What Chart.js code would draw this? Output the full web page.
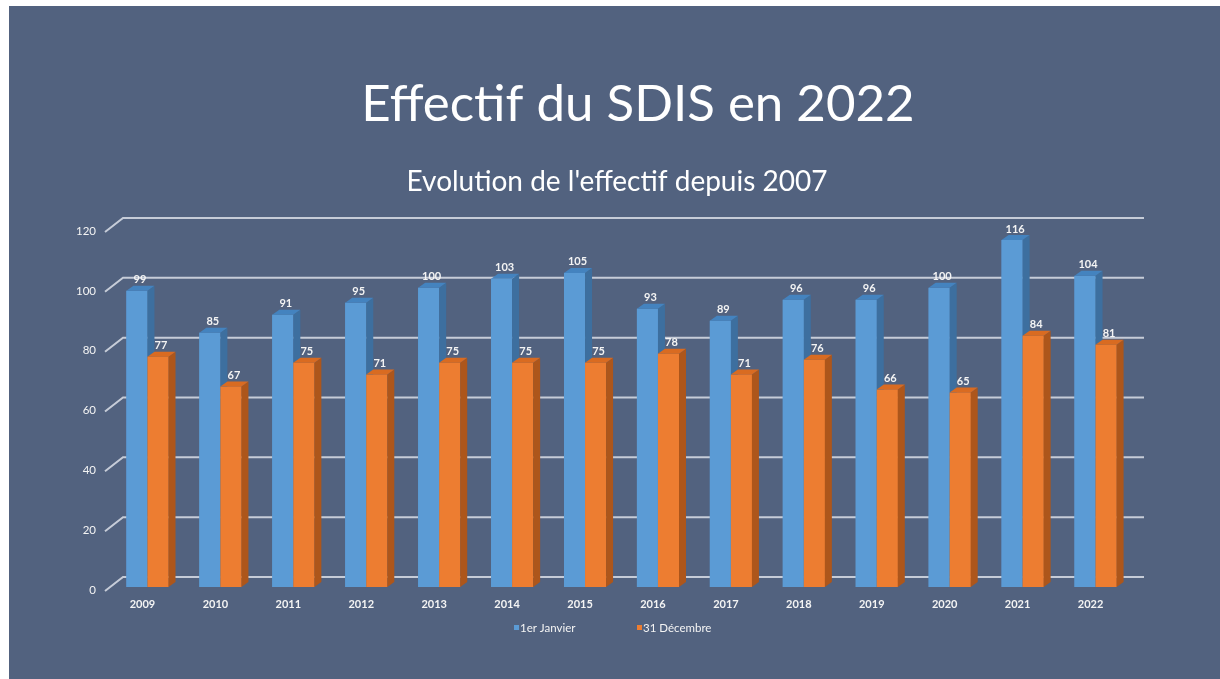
<!DOCTYPE html>
<html>
<head>
<meta charset="utf-8">
<script src="https://cdn.jsdelivr.net/npm/chart.js@4.4.1/dist/chart.umd.min.js"></script>
<style>
  html, body { margin: 0; padding: 0; background: #ffffff; }
  #slide { position: absolute; left: 9px; top: 6px; right: 0; bottom: 0; background: #52627f; }
  #chart { position: absolute; left: 0; top: 0; }
</style>
</head>
<body>
<div id="slide"></div>
<canvas id="chart" width="1220" height="679"></canvas>
<script>
'use strict';

// valeurs
var years = ['2009', '2010', '2011', '2012', '2013', '2014', '2015', '2016', '2017', '2018', '2019', '2020', '2021', '2022'];
var janvier = [99, 85, 91, 95, 100, 103, 105, 93, 89, 96, 96, 100, 116, 104];
var decembre = [77, 67, 75, 71, 75, 75, 75, 78, 71, 76, 66, 65, 84, 81];
var seriesNames = ['1er Janvier', '31 Décembre'];
var yMax = 120;
var yStep = 20;

var mainTitle = 'Effectif du SDIS en 2022';
var subTitle = "Evolution de l'effectif depuis 2007";

var colors = [
    { front: '#5b9bd5', top: '#4483bf', side: '#3d6f9f' },
    { front: '#ed7d31', top: '#d96b21', side: '#ad561b' }
];
var depthX = 7, depthY = 5;
var textColor = '#f4f4f4';
var gridColor = '#c6ccd8';

var slidePlugin = {
    id: 'slide3d',
    beforeDatasetsDraw: function(chart) {
        var ctx = chart.ctx;
        var ys = chart.scales.y;
        var area = chart.chartArea;
        ctx.save();
        ctx.strokeStyle = gridColor;
        ctx.lineWidth = 2;
        for (var v = 0; v <= yMax; v += yStep) {
            var y = ys.getPixelForValue(v);
            ctx.beginPath();
            ctx.moveTo(area.left - 6, y + 4);
            ctx.lineTo(area.left + 12, y - 10);
            ctx.lineTo(area.right + 12, y - 10);
            ctx.stroke();
        }
        ctx.restore();
    },
    afterDatasetsDraw: function(chart) {
        var ctx = chart.ctx;
        var metas = [chart.getDatasetMeta(0), chart.getDatasetMeta(1)];
        ctx.save();
        for (var i = 0; i < years.length; i++) {
            for (var d = 0; d < 2; d++) {
                var el = metas[d].data[i];
                var l = el.x - el.width / 2, r = el.x + el.width / 2;
                var t = el.y, b = el.base;
                var c = colors[d];
                ctx.fillStyle = c.front;
                ctx.fillRect(l, t, r - l, b - t);
                ctx.fillStyle = c.side;
                ctx.beginPath();
                ctx.moveTo(r, t);
                ctx.lineTo(r + depthX, t - depthY);
                ctx.lineTo(r + depthX, b - depthY);
                ctx.lineTo(r, b);
                ctx.closePath();
                ctx.fill();
                ctx.fillStyle = c.top;
                ctx.beginPath();
                ctx.moveTo(l, t);
                ctx.lineTo(l + depthX, t - depthY);
                ctx.lineTo(r + depthX, t - depthY);
                ctx.lineTo(r, t);
                ctx.closePath();
                ctx.fill();
            }
        }
        // étiquettes de données
        ctx.fillStyle = textColor;
        ctx.font = 'bold 11px Lato';
        ctx.textAlign = 'center';
        ctx.textBaseline = 'middle';
        for (var d2 = 0; d2 < 2; d2++) {
            var vals = chart.data.datasets[d2].data;
            metas[d2].data.forEach(function(el, k) {
                ctx.fillText(String(vals[k]), el.x + 3, el.y - 11);
            });
        }
        ctx.restore();
    },
    afterDraw: function(chart) {
        var ctx = chart.ctx;
        ctx.save();
        ctx.fillStyle = '#ffffff';
        ctx.textAlign = 'center';
        ctx.textBaseline = 'alphabetic';
        ctx.font = '51px Lato';
        ctx.fillText(mainTitle, 638, 121);
        ctx.font = '28px Lato';
        ctx.fillText(subTitle, 617, 191);

        // légende
        ctx.font = '11.5px Lato';
        ctx.textAlign = 'left';
        ctx.textBaseline = 'middle';
        var lx = [514, 637];
        for (var d = 0; d < 2; d++) {
            ctx.fillStyle = colors[d].front;
            ctx.fillRect(lx[d], 625, 5, 5);
            ctx.fillStyle = textColor;
            ctx.fillText(chart.data.datasets[d].label, lx[d] + 6, 628);
        }
        ctx.restore();
    }
};

var ctx = document.getElementById('chart').getContext('2d');
var chart = new Chart(ctx, {
    type: 'bar',
    data: {
        labels: years,
        datasets: [{
            label: seriesNames[0],
            data: janvier,
            backgroundColor: colors[0].front,
            categoryPercentage: 0.577,
            barPercentage: 1
        }, {
            label: seriesNames[1],
            data: decembre,
            backgroundColor: colors[1].front,
            categoryPercentage: 0.577,
            barPercentage: 1
        }]
    },
    options: {
        responsive: false,
        devicePixelRatio: 1,
        animation: false,
        layout: {
            padding: { left: 60, right: 88, top: 228, bottom: 0 }
        },
        scales: {
            x: {
                grid: { display: false, drawTicks: false },
                border: { display: false },
                ticks: {
                    color: textColor,
                    font: { family: 'Lato', size: 11, weight: 'bold' },
                    padding: 11,
                    labelOffset: -5,
                    maxRotation: 0
                },
                afterFit: function(s) { s.height = 92; }
            },
            y: {
                min: 0,
                max: yMax,
                grid: { display: false, drawTicks: false },
                border: { display: false },
                ticks: {
                    stepSize: yStep,
                    color: textColor,
                    font: { family: 'Lato', size: 11.5 },
                    padding: 15,
                    labelOffset: 3
                },
                afterFit: function(s) { s.width = 51; }
            }
        },
        plugins: {
            legend: { display: false },
            tooltip: { enabled: false }
        }
    },
    plugins: [slidePlugin]
});
</script>
</body>
</html>
